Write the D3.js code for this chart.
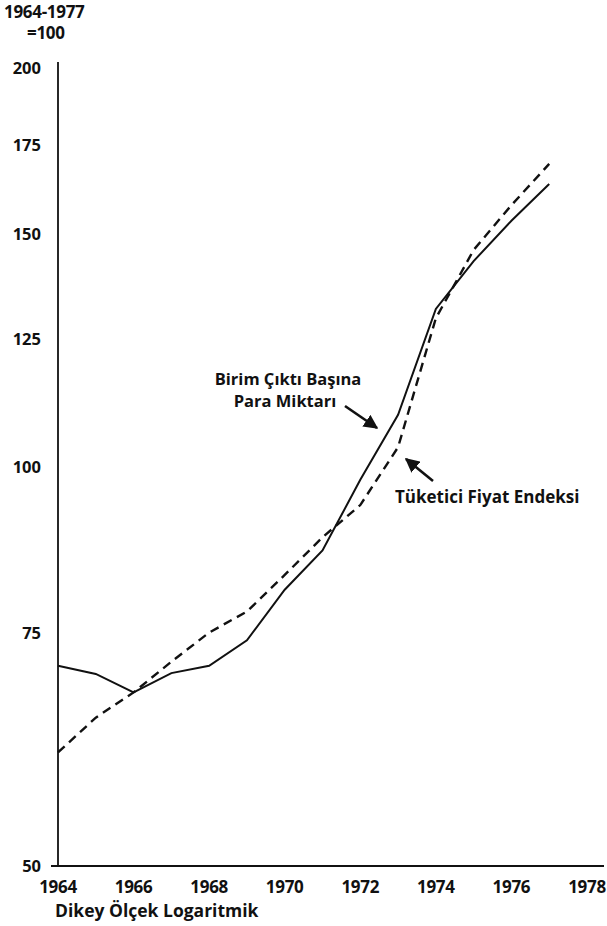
<!DOCTYPE html>
<html><head><meta charset="utf-8">
<script src="https://cdn.jsdelivr.net/npm/d3@7"></script>
<style>
html,body{margin:0;padding:0;background:#fff;}
svg text{font-family:"Open Sans","Noto Sans",sans-serif;font-weight:700;fill:#111;}
</style></head>
<body>
<svg id="c" width="607" height="926"></svg>
<script>
const years = [1964,1965,1966,1967,1968,1969,1970,1971,1972,1973,1974,1975,1976,1977];
const moneyPerUnit = [70.8,69.8,67.6,69.9,70.8,74.0,80.8,86.5,97.8,109.5,131.6,143.0,153.4,163.5];
const cpi = [60.9,64.7,67.6,71.3,75.0,77.8,82.9,88.5,93.6,103.5,129.5,145.8,157.6,169.3];
const yTicks = [50,75,100,125,150,175,200];
const xTicks = [1964,1966,1968,1970,1972,1974,1976,1978];
const labels = {
  unit1: "1964-1977", unit2: "=100",
  money1: "Birim Çıktı Başına", money2: "Para Miktarı",
  cpi: "Tüketici Fiyat Endeksi",
  note: "Dikey Ölçek Logaritmik"
};

const svg = d3.select("#c");
const x = d3.scaleLinear().domain([1964,1978]).range([58,587]);
const y = d3.scaleLog().domain([50,200]).range([866,68]);

// axes lines
svg.append("line").attr("x1",58).attr("x2",58).attr("y1",62).attr("y2",866)
  .attr("stroke","#111").attr("stroke-width",1.8);
svg.append("line").attr("x1",51).attr("x2",604).attr("y1",866).attr("y2",866)
  .attr("stroke","#111").attr("stroke-width",1.8);

// y tick labels
svg.selectAll("text.yt").data(yTicks).enter().append("text")
  .attr("class","yt").attr("x",41).attr("y",d=>y(d)+6)
  .attr("text-anchor","end").attr("font-size",16.5)
  .text(d=>d);

// x tick labels
svg.selectAll("text.xt").data(xTicks).enter().append("text")
  .attr("class","xt").attr("x",d=>x(d)).attr("y",893)
  .attr("text-anchor","middle").attr("font-size",17).attr("letter-spacing",-0.3)
  .text(d=>d);

// header
svg.append("text").attr("x",4).attr("y",18).attr("font-size",17).attr("letter-spacing",-0.3).text(labels.unit1);
svg.append("text").attr("x",27).attr("y",39).attr("font-size",17).attr("letter-spacing",-0.3).text(labels.unit2);
svg.append("text").attr("x",55).attr("y",917).attr("font-size",17.5).text(labels.note);

const line = d3.line().x((d,i)=>x(years[i])).y(d=>y(d));
svg.append("path").attr("d",line(moneyPerUnit)).attr("fill","none")
  .attr("stroke","#111").attr("stroke-width",2);
svg.append("path").attr("d",line(cpi)).attr("fill","none")
  .attr("stroke","#111").attr("stroke-width",2.4).attr("stroke-dasharray","9,6");

// annotations
svg.append("text").attr("x",288).attr("y",385).attr("text-anchor","middle").attr("font-size",16.5).text(labels.money1);
svg.append("text").attr("x",285).attr("y",407).attr("text-anchor","middle").attr("font-size",16.5).text(labels.money2);
svg.append("text").attr("x",395).attr("y",503).attr("font-size",17).text(labels.cpi);

const defs = svg.append("defs");
defs.append("marker").attr("id","ah").attr("viewBox","0 0 10 10").attr("refX",9).attr("refY",5)
  .attr("markerWidth",5.5).attr("markerHeight",5.5).attr("orient","auto")
  .append("path").attr("d","M0,0 L10,5 L0,10 z").attr("fill","#111");
svg.append("line").attr("x1",345).attr("y1",406).attr("x2",377).attr("y2",428)
  .attr("stroke","#111").attr("stroke-width",2.6).attr("marker-end","url(#ah)");
svg.append("line").attr("x1",433).attr("y1",481).attr("x2",406).attr("y2",459)
  .attr("stroke","#111").attr("stroke-width",2.6).attr("marker-end","url(#ah)");
</script>
</body></html>
